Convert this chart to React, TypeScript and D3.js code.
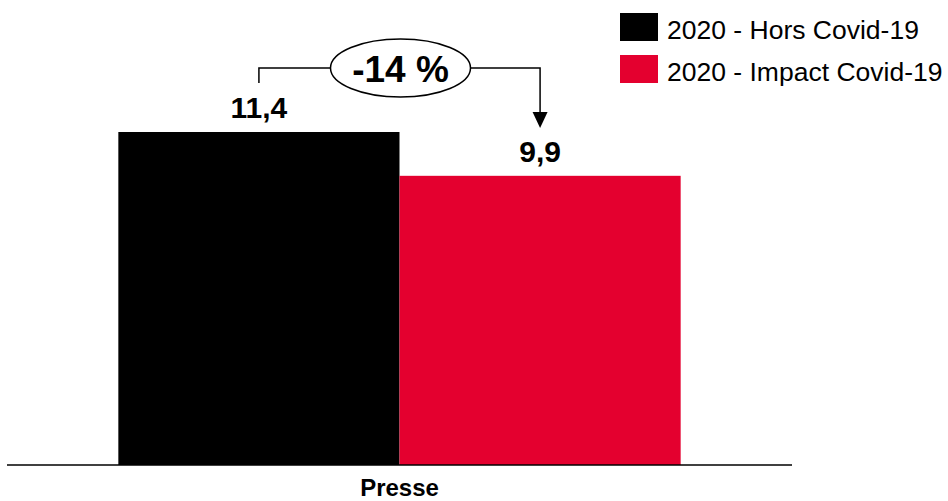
import React from "react";
import * as d3 from "d3";

const categories = ["Presse"];
const seriesNames = ["2020 - Hors Covid-19", "2020 - Impact Covid-19"];
const seriesColors = ["#000000", "#E4002F"];
const valuesHors = [11.4];
const valuesImpact = [9.9];
const valueLabels = [["11,4"], ["9,9"]];
const changeLabel = "-14 %";

const W = 948;
const H = 501;
const FONT = "'Liberation Sans', Arial, sans-serif";

export default function App() {
  const axisY = 465;
  const x0 = d3.scaleBand<string>().domain(categories).range([7, 792]).paddingInner(0).paddingOuter(0.198);
  const x1 = d3.scaleBand<number>().domain([0, 1]).range([0, x0.bandwidth()]).padding(0);
  const y = d3.scaleLinear().domain([0, 11.4]).range([axisY, 132]);

  const series = [valuesHors, valuesImpact];

  // annotation geometry derived from bar positions
  const cat = categories[0];
  const cxA = (x0(cat) as number) + (x1(0) as number) + x1.bandwidth() / 2;
  const cxB = (x0(cat) as number) + (x1(1) as number) + x1.bandwidth() / 2;
  const lineY = 68;
  const ellCx = (x0(cat) as number) + x0.bandwidth() / 2 + 1;
  const ellRx = 70;
  const ellRy = 29;
  const arrowTip = 128;

  return (
    <svg width={W} height={H} style={{ position: "absolute", left: 0, top: 0, background: "#fff" }} fontFamily={FONT}>
      {series.map((vals, si) =>
        categories.map((c, ci) => (
          <rect
            key={`${si}-${ci}`}
            x={(x0(c) as number) + (x1(si) as number)}
            y={y(vals[ci])}
            width={x1.bandwidth()}
            height={axisY - y(vals[ci])}
            fill={seriesColors[si]}
          />
        ))
      )}
      {series.map((vals, si) =>
        categories.map((c, ci) => (
          <text
            key={`l-${si}-${ci}`}
            x={(x0(c) as number) + (x1(si) as number) + x1.bandwidth() / 2}
            y={y(vals[ci]) - 14}
            textAnchor="middle"
            fontWeight="bold"
            fontSize={30}
          >
            {valueLabels[si][ci]}
          </text>
        ))
      )}
      <line x1={7} x2={792} y1={axisY} y2={axisY} stroke="#000" strokeWidth={1.5} />
      {categories.map((c) => (
        <text key={c} x={(x0(c) as number) + x0.bandwidth() / 2} y={496} textAnchor="middle" fontWeight="bold" fontSize={24}>
          {c}
        </text>
      ))}

      {/* change annotation */}
      <path d={`M${cxA},${lineY + 15} V${lineY} H${ellCx - ellRx}`} fill="none" stroke="#000" strokeWidth={1.5} />
      <path d={`M${ellCx + ellRx},${lineY} H${cxB} V${arrowTip - 14}`} fill="none" stroke="#000" strokeWidth={1.5} />
      <path d={`M${cxB - 7.5},${arrowTip - 16} L${cxB + 7.5},${arrowTip - 16} L${cxB},${arrowTip} Z`} fill="#000" />
      <ellipse cx={ellCx} cy={lineY} rx={ellRx} ry={ellRy} fill="#fff" stroke="#000" strokeWidth={1.5} />
      <text x={ellCx} y={82} textAnchor="middle" fontWeight="bold" fontSize={37}>
        {changeLabel}
      </text>

      {/* legend */}
      {seriesNames.map((name, i) => (
        <g key={name} transform={`translate(620, ${13 + i * 42})`}>
          <rect width={38} height={28} fill={seriesColors[i]} />
          <text x={47} y={26} fontSize={26.5}>
            {name}
          </text>
        </g>
      ))}
    </svg>
  );
}
